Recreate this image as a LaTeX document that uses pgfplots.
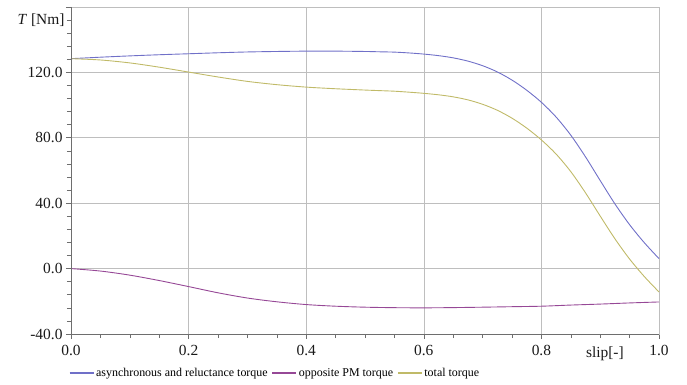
\documentclass[border=0pt]{standalone}
\usepackage{fontspec}
\setmainfont{Liberation Serif}
\usepackage{pgfplots}
\pgfplotsset{compat=1.18}
\usetikzlibrary{calc}
\definecolor{cblue}{RGB}{112,112,200}
\definecolor{cpurple}{RGB}{150,72,150}
\definecolor{colive}{RGB}{192,186,104}
\definecolor{cgrid}{RGB}{190,190,190}
\definecolor{caxis}{RGB}{110,110,110}
\begin{document}
\begin{tikzpicture}
\begin{axis}[
  scale only axis,
  width=588bp, height=327bp,
  xmin=0, xmax=1, ymin=-40, ymax=160,
  xtick={0,0.2,0.4,0.6,0.8,1.0},
  xticklabels={0.0,0.2,0.4,0.6,0.8,1.0},
  ytick={-40,0,40,80,120,160},
  yticklabels={-40.0,0.0,40.0,80.0,120.0,{}},
  minor x tick num=3,
  minor y tick num=4,
  tick align=outside,
  tick pos=left,
  major tick length=5bp,
  minor tick length=4bp,
  grid=major,
  major grid style={cgrid, line width=0.6pt},
  axis line style={cgrid, line width=0.8pt},
  every tick/.style={caxis, line width=0.6pt},
  ticklabel style={font=\fontsize{15.5}{17}\selectfont, text=black!90},
  xticklabel style={yshift=-3bp},
  /pgf/number format/assume math mode=true,
  legend style={at={(0.347,-0.119)}, anchor=center, draw=none, fill=none,
    font=\fontsize{12}{13}\selectfont, legend columns=3,
    /tikz/every even column/.append style={column sep=2bp},
    inner sep=0pt},
  legend image code/.code={\draw[#1, line width=1.2pt] (0bp,0bp) -- (24bp,0bp);},
  clip=false,
]
\addplot[cblue, line width=0.9pt, smooth] coordinates {
(0,128.4) (0.05,129.3) (0.1,130.1) (0.15,130.8) (0.2,131.4) (0.25,132.0)
(0.3,132.5) (0.35,132.8) (0.4,133.0) (0.45,133.0) (0.5,132.8) (0.525,132.6)
(0.55,132.4) (0.575,131.9) (0.6,131.2) (0.625,130.25) (0.65,128.9) (0.675,126.9)
(0.7,124.1) (0.725,120.3) (0.75,115.3) (0.775,109.1) (0.8,101.7) (0.825,92.7)
(0.85,81.6) (0.875,68.35) (0.9,53.85) (0.925,39.6) (0.95,26.85) (0.975,15.85)
(1.0,6.1)
};
\addlegendentry{asynchronous and reluctance torque}
\addplot[cpurple, line width=0.9pt, smooth] coordinates {
(0,0) (0.05,-1.5) (0.1,-4.0) (0.15,-7.3) (0.2,-11.0) (0.25,-14.8) (0.3,-18.0)
(0.35,-20.3) (0.4,-22.0) (0.45,-23.0) (0.5,-23.6) (0.55,-23.9) (0.6,-24.0)
(0.65,-23.85) (0.7,-23.6) (0.75,-23.3) (0.8,-23.0) (0.85,-22.3) (0.9,-21.7)
(0.95,-21.0) (1.0,-20.4)
};
\addlegendentry{opposite PM torque}
\addplot[colive, line width=0.9pt, smooth] coordinates {
(0,128.4) (0.05,127.6) (0.1,125.8) (0.15,123.2) (0.2,120.2) (0.25,117.2)
(0.3,114.5) (0.35,112.5) (0.4,111.0) (0.45,110.0) (0.5,109.2) (0.525,108.85)
(0.55,108.5) (0.575,107.9) (0.6,107.2) (0.625,106.3) (0.65,105.05) (0.675,103.2)
(0.7,100.5) (0.725,96.85) (0.75,92.0) (0.775,85.95) (0.8,78.7) (0.825,70.05)
(0.85,59.3) (0.875,46.35) (0.9,32.15) (0.925,18.25) (0.95,5.85) (0.975,-4.85)
(1.0,-14.3)
};
\addlegendentry{total torque}
\draw[caxis, line width=0.8pt] (rel axis cs:0,1) -- (rel axis cs:0,0) -- (rel axis cs:1,0);
\node[anchor=base, yshift=-23bp, font=\fontsize{15.5}{17}\selectfont, text=black!90] at (rel axis cs:0.908,0) {slip[-]};
\node[anchor=east, xshift=-3bp, yshift=-13bp, font=\fontsize{15.5}{17}\selectfont, text=black!90] at (rel axis cs:0,1) {\textit{T} [Nm]};
\end{axis}
\pgfresetboundingbox
\path[use as bounding box] ($(current axis.south west)+(-71bp,-51bp)$) rectangle ($(current axis.north east)+(28bp,7bp)$);
\end{tikzpicture}
\end{document}
